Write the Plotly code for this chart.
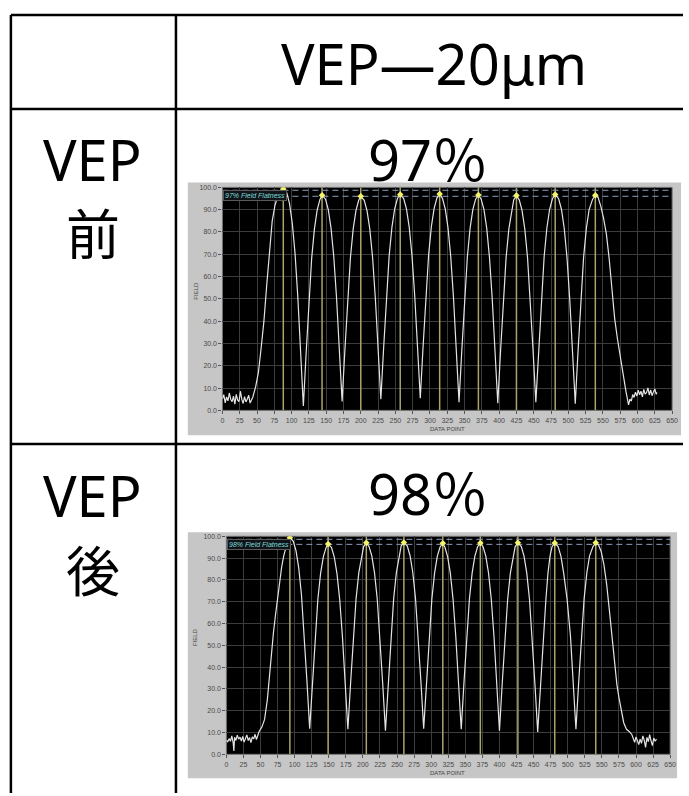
import plotly.graph_objects as go

# ---------------- data ----------------
header_text = "VEP—20μm"
row_labels = ["VEP<br>前", "VEP<br>後"]
flatness_labels = ["97％", "98％"]
box_labels = ["97% Field Flatness", "98% Field Flatness"]

x_ticks = list(range(0, 651, 25))
y_ticks = [0, 10, 20, 30, 40, 50, 60, 70, 80, 90, 100]

# chart 1 (before VEP)
x1 = [0, 2, 4, 6, 8, 10, 12, 14, 16, 18, 20, 22, 24, 26, 28, 30, 32, 34, 36, 38, 40, 42,
      44, 48, 52, 56, 60, 64, 68, 72, 76, 80, 84, 88,
      93, 97, 101, 105, 109, 113, 117,
      121, 125, 129, 133, 137, 141, 144,
      149, 153, 157, 161, 165, 169, 173,
      177, 181, 185, 189, 193, 197, 200,
      205, 209, 213, 217, 221, 225, 229,
      233, 237, 241, 245, 249, 253, 257,
      262, 266, 270, 274, 278, 282, 286,
      290, 294, 298, 302, 306, 310, 314,
      318, 322, 326, 330, 334, 338, 342,
      346, 350, 354, 358, 362, 366, 370,
      374, 378, 382, 386, 390, 394, 398,
      402, 406, 410, 414, 418, 421, 425,
      429, 433, 437, 441, 445, 449, 453,
      457, 461, 465, 469, 473, 477, 481,
      486, 490, 494, 498, 502, 506, 510,
      514, 518, 522, 526, 530, 535, 539,
      543, 547, 551, 555, 559, 563, 567, 571, 575, 579, 583, 587,
      589, 591, 593, 595, 597, 599, 601, 603, 605, 607, 609, 611, 613, 615, 617, 619,
      621, 623, 625, 627, 628]
y1 = [5.2, 7.1, 3.4, 6.0, 4.3, 7.8, 5.0, 3.9, 6.4, 2.8, 7.2, 4.6, 4.0, 8.6, 4.9, 3.1, 6.2, 3.8, 5.1, 6.8, 3.3, 4.5,
      6.0, 10.5, 17.0, 28.0, 40.0, 56.0, 72.0, 85.0, 92.0, 96.0, 98.7, 99.5,
      97.6, 92.7, 83.9, 70.3, 50.8, 26.4, 2.0,
      25.6, 49.3, 68.2, 81.4, 89.9, 94.6, 96.5,
      94.7, 90.0, 81.7, 68.8, 50.3, 27.1, 4.0,
      27.0, 50.0, 68.4, 81.3, 89.6, 94.2, 96.0,
      94.2, 89.6, 81.4, 68.7, 50.5, 27.8, 5.0,
      28.0, 50.9, 69.3, 82.1, 90.4, 95.0, 96.8,
      95.0, 90.4, 82.2, 69.4, 51.2, 28.3, 5.5,
      28.4, 51.3, 69.6, 82.4, 90.6, 95.2, 97.0,
      95.1, 90.5, 82.1, 69.0, 50.4, 27.0, 3.7,
      26.9, 50.2, 68.7, 81.7, 90.1, 94.7, 96.6,
      94.7, 90.1, 81.7, 68.6, 49.9, 26.6, 3.2,
      26.5, 49.8, 68.4, 81.4, 89.8, 94.4, 96.3,
      94.4, 89.8, 81.5, 68.5, 50.0, 26.9, 3.7,
      27.0, 50.3, 68.9, 81.9, 90.3, 94.9, 96.8,
      94.9, 90.2, 81.8, 68.7, 49.9, 26.5, 3.0,
      26.4, 49.8, 68.5, 81.5, 90.0, 94.6, 96.5,
      95.5, 91.5, 86.0, 79.0, 68.0, 54.0, 41.0, 32.0, 24.0, 16.0, 9.0, 2.5,
      5.0, 4.2, 7.1, 5.8, 8.2, 6.4, 9.1, 7.0, 8.6, 6.1, 9.4, 7.3, 8.0, 10.1, 6.9, 9.2,
      6.6, 8.3, 9.6, 7.2, 8.1]
peaks1_x = [88, 144, 200, 257, 314, 370, 425, 481, 539]
peaks1_y = [99.3, 96.5, 96.0, 96.8, 97.0, 96.6, 96.3, 96.8, 96.5]
limits1 = [98.7, 96.0]

# chart 2 (after VEP)
x2 = [0, 2, 4, 6, 8, 10, 11, 12, 14, 16, 18, 20, 22, 24, 26, 28, 30, 32, 34, 36, 38, 40, 42, 44, 46,
      48, 52, 56, 60, 63, 66, 69, 72, 75, 78, 81, 84, 87, 90, 93,
      98, 102, 106, 110, 114, 118, 122,
      126, 130, 134, 138, 142, 146, 149,
      154, 158, 162, 166, 170, 174, 178,
      182, 186, 190, 194, 198, 201, 205,
      209, 213, 217, 221, 225, 229, 233,
      237, 241, 245, 249, 253, 256, 260,
      265, 269, 273, 277, 281, 285, 289,
      293, 297, 301, 305, 309, 313, 317,
      320, 324, 328, 332, 336, 340, 344,
      348, 352, 356, 360, 364, 368, 372,
      376, 380, 384, 388, 392, 396, 400,
      404, 408, 412, 416, 420, 423, 427,
      432, 436, 440, 444, 448, 452, 456,
      460, 464, 468, 471, 474, 477, 481,
      486, 490, 494, 499, 504, 508, 512,
      516, 520, 524, 528, 532, 537, 541,
      545, 549, 553, 557, 561, 565, 569, 572, 575, 579, 582, 586, 590, 594,
      596, 598, 600, 602, 604, 606, 608, 610, 612, 614, 616, 618, 620, 622, 624, 626, 628, 630]
y2 = [6.5, 5.8, 7.2, 6.0, 8.5, 5.2, 1.5, 7.8, 6.4, 8.8, 7.0, 7.9, 6.1, 8.2, 5.6, 7.4, 8.9, 6.3, 7.7, 5.4, 8.0, 7.1, 9.2, 6.8, 8.5,
      10.5, 12.5, 16.0, 25.0, 36.0, 47.0, 56.0, 64.0, 72.0, 79.0, 86.0, 91.0, 95.0, 98.0, 99.5,
      97.7, 93.4, 85.5, 73.2, 55.7, 33.7, 11.8,
      33.0, 54.2, 71.1, 83.0, 90.6, 94.8, 96.5,
      94.8, 90.6, 82.9, 71.0, 54.0, 32.8, 11.5,
      32.9, 54.3, 71.4, 83.3, 91.0, 95.3, 97.0,
      95.3, 91.0, 83.2, 71.1, 53.9, 32.4, 10.8,
      32.4, 54.0, 71.3, 83.4, 91.2, 95.5, 97.2,
      95.5, 91.2, 83.5, 71.6, 54.5, 33.2, 11.8,
      33.1, 54.3, 71.3, 83.2, 90.9, 95.1, 96.8,
      95.1, 90.8, 83.2, 71.2, 54.2, 32.8, 11.5,
      32.9, 54.2, 71.3, 83.2, 90.9, 95.2, 96.9,
      95.2, 90.9, 83.1, 71.1, 53.9, 32.3, 10.8,
      32.4, 53.9, 71.1, 83.2, 91.0, 95.3, 97.0,
      95.3, 90.9, 83.1, 71.0, 53.7, 32.0, 10.3,
      32.0, 53.6, 71.0, 83.0, 90.8, 95.2, 96.9,
      95.2, 90.9, 83.2, 71.3, 54.2, 32.9, 11.5,
      32.9, 54.3, 71.4, 83.3, 91.0, 95.3, 97.0,
      96.0, 93.0, 87.0, 78.0, 66.0, 53.0, 40.0, 32.0, 26.0, 19.0, 14.5, 11.5, 10.5, 9.0,
      7.5, 5.5, 8.0, 6.0, 4.5, 7.0, 5.0, 8.5, 6.5, 3.2, 7.8, 5.8, 9.0, 6.2, 4.0, 7.5, 6.0, 7.0]
peaks2_x = [93, 149, 205, 260, 317, 372, 427, 481, 541]
peaks2_y = [99.3, 96.5, 97.0, 97.2, 96.8, 96.9, 97.0, 96.9, 97.0]
limits2 = [98.6, 96.3]

# ---------------- layout helpers ----------------
W, H = 689, 796


def fx(p):
    return p / W


def fy(p):
    return 1 - p / H


fig = go.Figure()

panels = [
    dict(xa="x", ya="y", l=223, r=678, t=185, b=410, gl=188, gr=687, gt=180, gb=435),
    dict(xa="x2", ya="y2", l=227, r=676, t=537, b=757, gl=188, gr=683, gt=533, gb=781),
]
series = [
    (x1, y1, peaks1_x, peaks1_y, limits1, box_labels[0]),
    (x2, y2, peaks2_x, peaks2_y, limits2, box_labels[1]),
]

shapes = []
annotations = []

for i, (pn, (xs, ys, pxs, pys, lims, blabel)) in enumerate(zip(panels, series)):
    shapes.append(dict(type="rect", xref="paper", yref="paper",
                       x0=fx(pn["gl"]), x1=fx(pn["gr"]), y0=fy(pn["gb"]), y1=fy(pn["gt"]),
                       fillcolor="#c6c6c6", line=dict(width=0), layer="below"))
    shapes.append(dict(type="rect", xref="paper", yref="paper",
                       x0=fx(pn["l"]), x1=fx(pn["r"]), y0=fy(pn["b"]), y1=fy(pn["t"]),
                       fillcolor="#000000", line=dict(color="#777777", width=1), layer="below"))

    vx, vy = [], []
    for p in pxs:
        vx += [p, p, None]
        vy += [0, 100, None]
    fig.add_trace(go.Scatter(x=vx, y=vy, mode="lines", xaxis=pn["xa"], yaxis=pn["ya"],
                             line=dict(color="#a9a46c", width=1.5), hoverinfo="skip",
                             showlegend=False))
    for lv in lims:
        fig.add_trace(go.Scatter(x=[0, 650], y=[lv, lv], mode="lines",
                                 xaxis=pn["xa"], yaxis=pn["ya"],
                                 line=dict(color="#8f9cc0", width=1, dash="6px,4px"),
                                 hoverinfo="skip", showlegend=False))
    fig.add_trace(go.Scatter(x=xs, y=ys, mode="lines", xaxis=pn["xa"], yaxis=pn["ya"],
                             line=dict(color="#e4e4e4", width=1.2), showlegend=False))
    fig.add_trace(go.Scatter(x=pxs, y=pys, mode="markers", xaxis=pn["xa"], yaxis=pn["ya"],
                             marker=dict(color="#f4f46a", size=5, symbol="diamond"),
                             showlegend=False))

    annotations.append(dict(xref="paper", yref="paper", x=fx(pn["l"] + 1), y=fy(pn["t"] + 3),
                            xanchor="left", yanchor="top", showarrow=False,
                            text=blabel, bgcolor="#101418", bordercolor="#5a5a5a",
                            borderwidth=1, borderpad=1,
                            font=dict(family="Liberation Sans, Arial", size=7,
                                      color="#7fdcdc", style="italic")))
    annotations.append(dict(xref="paper", yref="paper", x=fx(196), y=fy((pn["t"] + pn["b"]) / 2 - 8),
                            xanchor="center", yanchor="middle", showarrow=False, textangle=-90,
                            text="FIELD", font=dict(family="Liberation Sans, Arial", size=6,
                                                     color="#444444")))
    annotations.append(dict(xref="paper", yref="paper", x=fx(451), y=fy(pn["b"] + 19),
                            xanchor="center", yanchor="middle", showarrow=False,
                            text="DATA POINT", font=dict(family="Liberation Sans, Arial", size=6,
                                                          color="#444444")))

axis_common = dict(showgrid=True, gridcolor="#3c3c3c", gridwidth=1, zeroline=False,
                   showline=False, ticks="outside", ticklen=3, tickcolor="#555555",
                   tickfont=dict(family="Liberation Sans, Arial", size=7, color="#4a4a4a"))

layout = dict(
    width=W, height=H, autosize=False,
    margin=dict(l=0, r=0, t=0, b=0),
    paper_bgcolor="#ffffff", plot_bgcolor="#000000",
    showlegend=False,
)
for pn in panels:
    xk = "xaxis" if pn["xa"] == "x" else "xaxis2"
    yk = "yaxis" if pn["ya"] == "y" else "yaxis2"
    layout[xk] = dict(axis_common, domain=[fx(pn["l"]), fx(pn["r"])], range=[0, 650],
                      tickmode="array", tickvals=x_ticks, ticktext=[str(v) for v in x_ticks],
                      anchor=pn["ya"])
    layout[yk] = dict(axis_common, domain=[fy(pn["b"]), fy(pn["t"])], range=[0, 100],
                      tickmode="array", tickvals=y_ticks, ticktext=[f"{v:.1f}" for v in y_ticks],
                      anchor=pn["xa"])

lc = dict(color="#000000", width=2.5)
for (x0, y0, x1_, y1_) in [(9, 11, 689, 11), (9, 106, 689, 106), (9, 444, 689, 444),
                           (9, 11, 9, 796), (176, 11, 176, 796)]:
    shapes.append(dict(type="line", xref="paper", yref="paper",
                       x0=fx(x0), x1=fx(x1_), y0=fy(y0), y1=fy(y1_), line=lc))

big = dict(family="Noto Sans, Noto Sans CJK JP", size=56, color="#000000")
annotations.append(dict(xref="paper", yref="paper", x=fx(437), y=fy(60), xanchor="center",
                        yanchor="middle", showarrow=False, text=header_text, font=big))
for yc, lab in zip([156, 495], ["VEP", "VEP"]):
    annotations.append(dict(xref="paper", yref="paper", x=fx(92), y=fy(yc), xanchor="center",
                            yanchor="middle", showarrow=False, text=lab, font=big))
for yc, lab in zip([230, 570], [row_labels[0].split("<br>")[1], row_labels[1].split("<br>")[1]]):
    annotations.append(dict(xref="paper", yref="paper", x=fx(92), y=fy(yc), xanchor="center",
                            yanchor="middle", showarrow=False, text=lab,
                            font=dict(family="Noto Sans CJK JP", size=54, color="#000000")))
for yc, lab in zip([156, 493], flatness_labels):
    annotations.append(dict(xref="paper", yref="paper", x=fx(431), y=fy(yc), xanchor="center",
                            yanchor="middle", showarrow=False, text=lab, font=big))

layout["shapes"] = shapes
layout["annotations"] = annotations
fig.update_layout(**layout)
fig.write_html("out.html")
